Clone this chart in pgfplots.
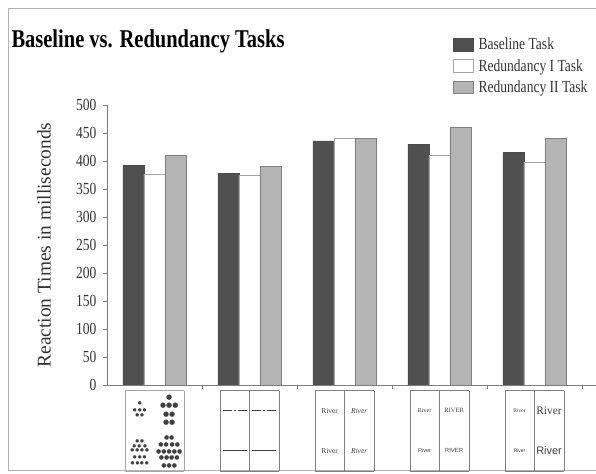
\documentclass[border=0pt]{standalone}
\usepackage{fontspec}
\setmainfont{Liberation Serif}[FakeStretch=0.8]
\newfontfamily\labfont{Liberation Serif}
\newfontfamily\sansf{Liberation Sans}
\newfontfamily\dotfont{DejaVu Sans}
\usepackage{pgfplots}
\pgfplotsset{compat=1.18}

\definecolor{darkbar}{RGB}{80,80,80}
\definecolor{lightbar}{RGB}{180,180,180}
\definecolor{axisgray}{RGB}{125,125,125}

% one stimulus panel under each group: 2 columns x 2 rows
\newcommand{\cell}[1]{\parbox[c][40bp][c]{29.5bp}{\centering\color{black!75}#1}}
\newcommand{\stim}[4]{{\color{gray}\setlength{\tabcolsep}{0pt}%
  \begin{tabular}{|c|c|}\hline \cell{#1}&\cell{#2}\\ \cell{#3}&\cell{#4}\\\hline\end{tabular}}}
\newcommand{\stimnd}[4]{{\color{gray!70}\setlength{\tabcolsep}{0pt}%
  \begin{tabular}{|cc|}\hline \cell{#1}&\cell{#2}\\ \cell{#3}&\cell{#4}\\\hline\end{tabular}}}
% rows of dots: \dotrows{size}{baselineskip}{rows}
\newcommand{\dotrows}[3]{{\dotfont\fontsize{#1}{#2}\selectfont #3\par}}
\newcommand{\s}{\kern1pt}

\begin{document}
\begin{tikzpicture}
\useasboundingbox (0,0) rectangle (596bp,474bp);
\draw[gray!60, line width=0.8pt] (597bp,466bp) -- (8bp,466bp) -- (8bp,4bp) -- (597bp,4bp);
\node[anchor=west, font=\bfseries\fontsize{25.7}{25.7}\selectfont] at (8bp,433bp) {Baseline vs. Redundancy Tasks};

\begin{axis}[
    at={(107bp,89bp)}, anchor=south west,
    scale only axis, width=490bp, height=280bp,
    xmin=-0.5, xmax=4.66, ymin=0, ymax=500,
    axis lines*=left,
    axis line style={axisgray},
    ybar=0pt, bar width=21bp,
    ytick={0,50,...,500},
    xtick={0.5,1.5,2.5,3.5,4.5}, xticklabels={},
    extra x ticks={0,1,2,3,4},
    extra x tick labels={
      \stimnd{\dotrows{4.5}{6.5}{\kern-2pt●\\●\s●\s●\\\kern-1pt●\s●}}
           {\dotrows{7}{8.3}{\kern-1pt●\\●●●\\\kern1pt●●\\●●}}
           {\dotrows{4.5}{5.4}{\kern3pt●\s●\\●\s●\kern2pt●\\\kern-2pt●\s●\s●\s●\\\kern2pt●\s●\s●\\●\s●\kern0.5pt●\s●}}
           {\dotrows{6}{7}{\kern3pt●●\\●●\s●●\\●●●●●\\\kern-1pt●●●●\\\kern1pt●●●}},
      \stim{\rule{9bp}{0.5bp}\hspace{2bp}\rule{2bp}{0.5bp}\hspace{2bp}\rule{9bp}{0.5bp}}
           {\rule{9bp}{1.1bp}\hspace{2bp}\rule{2bp}{1.1bp}\hspace{2bp}\rule{9bp}{1.1bp}}
           {\rule{24bp}{0.6bp}}
           {\rule{24bp}{1.5bp}},
      \stim{{\labfont\fontsize{7.5}{7.5}\selectfont River}}
           {{\labfont\fontsize{7.5}{7.5}\selectfont\itshape River}}
           {{\labfont\fontsize{7.5}{7.5}\selectfont River}}
           {{\labfont\fontsize{7.5}{7.5}\selectfont\itshape River}},
      \stim{{\labfont\fontsize{6}{6}\selectfont River}}
           {{\labfont\fontsize{6.5}{6.5}\selectfont RIVER}}
           {{\sansf\fontsize{5.5}{5.5}\selectfont River}}
           {{\sansf\fontsize{6}{6}\selectfont RIVER}},
      \stim{{\labfont\fontsize{5.5}{5.5}\selectfont River}}
           {{\labfont\fontsize{11.5}{11.5}\selectfont River}}
           {{\sansf\fontsize{5}{5}\selectfont River}}
           {{\sansf\fontsize{11}{11}\selectfont River}}},
    extra x tick style={major tick length=0pt, xticklabel style={anchor=north, inner sep=0pt, yshift=-5bp}},
    tick align=outside,
    major tick length=4bp,
    tick style={axisgray},
    /pgf/number format/assume math mode=true,
    yticklabel style={font=\fontsize{17}{17}\selectfont, text=black!80, xshift=-3bp},
    ylabel={Reaction Times in milliseconds},
    ylabel style={font=\labfont\fontsize{19.5}{19.5}\selectfont, text=black!80,
      at={(axis description cs:-0.1286,0.5)}, anchor=center},
    legend style={draw=none, fill=none, at={(axis description cs:0.7,1.25)}, anchor=north west,
      font=\fontsize{17}{17}\selectfont, row sep=6bp, nodes={inner sep=1bp, text=black!80}},
    legend cell align=left,
    legend image code/.code={\draw[#1] (0bp,-6bp) rectangle (20bp,6.5bp);},
    /tikz/every odd column/.append style={column sep=4bp},
]
\addplot[fill=darkbar, draw=black!70] coordinates {(0,392) (1,378) (2,436) (3,430) (4,415)};
\addplot[fill=white, draw=black!35] coordinates {(0,376) (1,375) (2,440) (3,410) (4,398)};
\addplot[fill=lightbar, draw=black!50] coordinates {(0,410) (1,391) (2,441) (3,460) (4,440)};
\legend{Baseline Task, Redundancy I Task, Redundancy II Task}
\end{axis}
\end{tikzpicture}
\end{document}
